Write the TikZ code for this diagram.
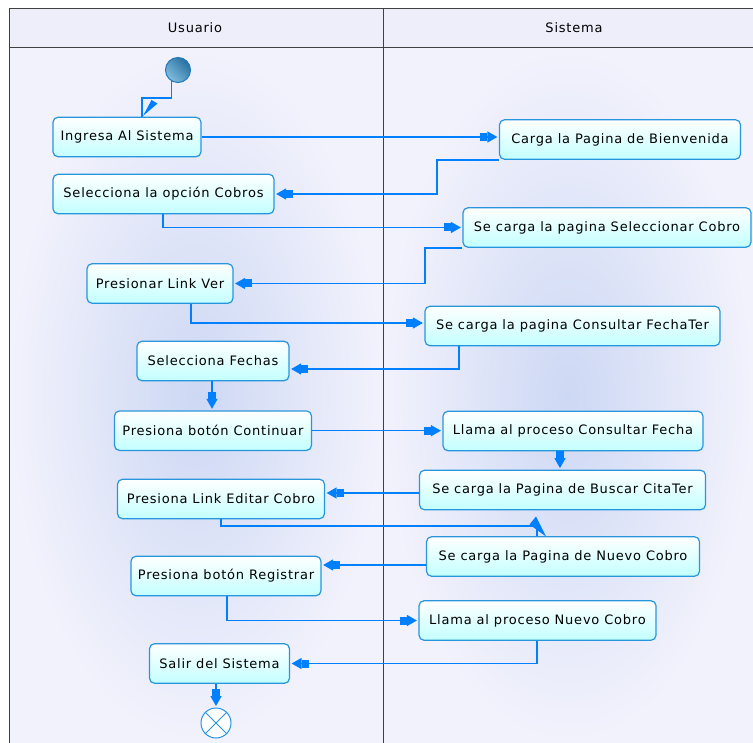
\documentclass[tikz,border=0pt]{standalone}
\usepackage{fontspec}
\setmainfont{DejaVu Sans}[LetterSpace=6]
\usetikzlibrary{arrows.meta,calc}
\definecolor{linec}{RGB}{0,128,255}
\definecolor{boxb}{RGB}{40,150,220}
\definecolor{boxf}{RGB}{195,255,255}
\definecolor{framec}{RGB}{64,64,64}
\definecolor{lanein}{RGB}{205,216,244}
\definecolor{laneout}{RGB}{242,242,252}
\definecolor{headc}{RGB}{238,238,250}
\definecolor{startl}{RGB}{130,190,222}
\definecolor{startd}{RGB}{40,112,160}
\definecolor{startb}{RGB}{30,120,190}
\begin{document}
\begin{tikzpicture}[x=1pt,y=-1pt,
  act/.style={draw=boxb, line width=1.2pt, rounded corners=5pt,
    top color=white, bottom color=boxf, minimum height=39.5pt,
    inner sep=0pt, font=\fontsize{13}{15}\selectfont},
  conn/.style={draw=linec, line width=1.4pt,
    -{Rectangle[length=7pt,width=8pt]Triangle[length=10pt,width=11pt]},
    shorten >=1.5pt},
  plainc/.style={draw=linec, line width=1.4pt},
  wedge/.style={fill=linec},
  head/.style={font=\fontsize{13}{15}\selectfont, inner sep=0pt}]
\useasboundingbox (0,0) rectangle (753,743);
% swimlanes
\fill[white] (0,0) rectangle (753,743);
\fill[headc] (9,9) rectangle (753,48);
\shade[inner color=lanein, outer color=laneout] (9,48) rectangle (383,743);
\shade[inner color=lanein, outer color=laneout] (383,48) rectangle (753,743);
\draw[framec, line width=1pt] (9,743) -- (9,9) -- (753,9);
\draw[framec, line width=1pt] (9,48) -- (753,48);
\draw[framec, line width=1pt] (383,9) -- (383,743);
\node[head] (husr) at (195,28) {Usuario};
\node[head] (hsis) at (574,28) {Sistema};
% nodes
\node[circle, minimum size=25pt, inner sep=0pt, draw=startb, line width=1pt,
  left color=startl, right color=startd, shading angle=135] (start) at (178,70) {};
\node[act, minimum width=148pt] (ingresa) at (127,137) {Ingresa Al Sistema};
\node[act, minimum width=241pt] (carga) at (620,139.5) {Carga la Pagina de Bienvenida};
\node[act, minimum width=221pt] (selop) at (163.5,194) {Selecciona la opción Cobros};
\node[act, minimum width=288pt] (selcob) at (607,227.5) {Se carga la pagina Seleccionar Cobro};
\node[act, minimum width=146pt] (linkver) at (160,283.5) {Presionar Link Ver};
\node[act, minimum width=295pt] (fechater) at (572.5,326) {Se carga la pagina Consultar FechaTer};
\node[act, minimum width=152pt] (selfechas) at (213,361) {Selecciona Fechas};
\node[act, minimum width=197pt] (continuar) at (213,430.7) {Presiona botón Continuar};
\node[act, minimum width=260pt] (consfecha) at (573,431) {Llama al proceso Consultar Fecha};
\node[act, minimum width=286pt] (buscar) at (562.5,490) {Se carga la Pagina de Buscar CitaTer};
\node[act, minimum width=207pt] (editar) at (221,499) {Presiona Link Editar Cobro};
\node[act, minimum width=273pt] (nuevo) at (563,556.5) {Se carga la Pagina de Nuevo Cobro};
\node[act, minimum width=190pt] (registrar) at (226,576) {Presiona botón Registrar};
\node[act, minimum width=237pt] (nuevocobro) at (537.5,620.5) {Llama al proceso Nuevo Cobro};
\node[act, minimum width=140pt] (salir) at (219.5,663.5) {Salir del Sistema};
\node[circle, minimum size=30pt, inner sep=0pt, draw=boxb, fill=white, line width=1pt] (fin) at (216,723) {};
\draw[boxb, line width=1pt] (fin.45) -- (fin.225) (fin.135) -- (fin.315);
% connectors
\draw[plainc] (start.240) |- (142,98) -- (ingresa.north -| 142,0);
\fill[wedge] (143,116) -- (151.5,100) -- (157.5,103.5) -- cycle;
\draw[conn] (ingresa.east) -- (ingresa.east -| carga.west);
\draw[conn] (carga.south west) -| (437,170) |- (selop.east);
\draw[conn] (selop.south -| 163,0) |- (selcob.west);
\draw[conn] (selcob.south west) -| (425,260) |- (linkver.east);
\draw[conn] (linkver.south -| 191,0) |- (fechater.west |- 0,323);
\draw[conn] (fechater.south -| 459,0) |- (selfechas.east |- 0,369);
\draw[conn] (selfechas.south -| 212,0) -- (continuar.north -| 212,0);
\draw[conn] (continuar.east) -- (continuar.east -| consfecha.west);
\draw[conn] (consfecha.south -| 560,0) -- (buscar.north -| 560,0);
\draw[conn] (buscar.west |- 0,493) -- (editar.east |- 0,493);
\draw[plainc] (editar.south -| 221,0) |- (537,526) -- (nuevo.north -| 537,0);
\fill[wedge] (536,516.5) -- (529.5,524.5) -- (546,536.5) -- cycle;
\draw[conn] (nuevo.west |- 0,565) -- (registrar.east |- 0,565);
\draw[conn] (registrar.south -| 227,0) |- (nuevocobro.west);
\draw[conn] (nuevocobro.south -| 537,0) |- (salir.east);
\draw[conn] (salir.south -| 216,0) -- (fin.north);
\end{tikzpicture}
\end{document}
